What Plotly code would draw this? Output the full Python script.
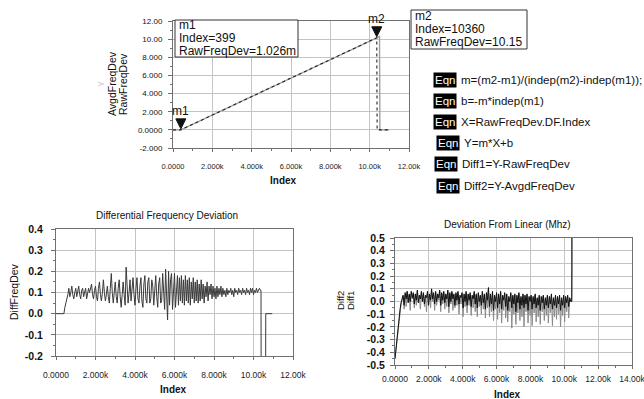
import plotly.graph_objects as go

W, H = 644, 399
FONT = "Liberation Sans, Arial, sans-serif"

# ---------------- data: top plot ----------------
raw_index = [0, 399, 10360, 10380, 11000]
raw_values = [0.0, 0.001026, 10.15, 0.0, 0.0]
avgd_index = [0, 399, 10360, 10500, 10520, 11000]
avgd_values = [0.0, 0.0, 10.15, 10.3, 0.0, 0.0]
m1_index, m1_value = 399, 0.001026
m2_index, m2_value = 10360, 10.15

top_yticks = [-2, 0, 2, 4, 6, 8, 10, 12]
top_ytext = ["-2.000", "0.0000", "2.000", "4.000", "6.000", "8.000", "10.00", "12.00"]
idx_ticks12 = [0, 2000, 4000, 6000, 8000, 10000, 12000]
idx_text12 = ["0.0000", "2.000k", "4.000k", "6.000k", "8.000k", "10.00k", "12.00k"]
idx_ticks14 = [0, 2000, 4000, 6000, 8000, 10000, 12000, 14000]
idx_text14 = ["0.0000", "2.000k", "4.000k", "6.000k", "8.000k", "10.00k", "12.00k", "14.00k"]

# ---------------- data: differential frequency deviation ----------------
diff_start, diff_step = 0, 50
diff_values = [
    0, 0, 0, 0, 0, 0, 0, 0, 0,
    0.03, 0.05, 0.06, 0.09, 0.12, 0.08, 0.10, 0.13, 0.09, 0.07,
    0.10, 0.12, 0.08, 0.10, 0.13, 0.09, 0.07, 0.11, 0.12, 0.08,
    0.10, 0.12, 0.07, 0.09, 0.12, 0.10, 0.13, 0.14, 0.09, 0.07,
    0.11, 0.13, 0.08, 0.06, 0.12, 0.15, 0.09, 0.06, 0.10, 0.16,
    0.10, 0.06, 0.09, 0.13, 0.08, 0.05, 0.12, 0.19, 0.10, 0.05,
    0.10, 0.15, 0.08, 0.05, 0.12, 0.16, 0.08, 0.03, 0.09, 0.15,
    0.09, 0.04, 0.22, 0.12, 0.05, 0.10, 0.16, 0.06, 0.10, 0.17,
    0.09, 0.04, 0.12, 0.17, 0.07, 0.05, 0.13, 0.17, 0.06, 0.03,
    0.14, 0.18, 0.07, 0.05, 0.15, 0.17, 0.05, 0.07, 0.16, 0.13,
    0.04, 0.10, 0.18, 0.08, 0.03, 0.14, 0.17, 0.05, 0.06, 0.19,
    0.10, 0.02, 0.21, 0.12, -0.03, 0.20, 0.04, 0.16, 0.19, 0.02,
    0.12, 0.19, 0.03, 0.15, 0.18, 0.04, 0.17, 0.06, 0.18, 0.05,
    0.16, 0.04, 0.18, 0.06, 0.16, 0.05, 0.17, 0.04, 0.15, 0.07,
    0.17, 0.05, 0.15, 0.06, 0.16, 0.05, 0.14, 0.06, 0.16, 0.07,
    0.14, 0.05, 0.13, 0.08, 0.15, 0.06, 0.13, 0.09, 0.14, 0.07,
    0.13, 0.08, 0.12, 0.07, 0.13, 0.08, 0.12, 0.09, 0.13, 0.08,
    0.12, 0.09, 0.11, 0.08, 0.12, 0.09, 0.11, 0.10, 0.12, 0.09,
    0.11, 0.08, 0.12, 0.10, 0.11, 0.09, 0.12, 0.10, 0.11, 0.09,
    0.12, 0.10, 0.11, 0.09, 0.12, 0.10, 0.11, 0.09, 0.12, 0.10,
    0.12, 0.09, 0.11, 0.10, 0.12, 0.10, 0.11, 0.12, 0.11,
]
diff_tail_index = [10380, 10400, 10600, 10620, 10950]
diff_tail_values = [0.11, -1.0, -1.0, 0.0, 0.0]
diff_yticks = [-0.2, -0.1, 0.0, 0.1, 0.2, 0.3, 0.4]
diff_ytext = ["-0.2", "-0.1", "0.0", "0.1", "0.2", "0.3", "0.4"]

# ---------------- data: deviation from linear ----------------
dev_start, dev_step = 0, 60
diff1_values = [
    -0.45, -0.36, -0.27, -0.19, -0.12, -0.06, -0.01, 0.03, 0.05, -0.03,
    0.07, 0.02, 0.08, -0.01, 0.06, 0.00, 0.08, 0.03, 0.07, -0.02,
    0.06, 0.01, 0.09, -0.01, 0.05, 0.02, 0.08, 0.00, 0.07, -0.02,
    0.05, 0.03, 0.08, -0.03, 0.06, 0.01, 0.10, 0.02, 0.07, -0.02,
    0.08, 0.00, 0.06, 0.03, 0.09, -0.03, 0.07, 0.01, 0.08, -0.01,
    0.06, 0.02, 0.09, -0.04, 0.07, 0.00, 0.08, 0.02, 0.06, -0.03,
    0.07, 0.01, 0.08, -0.02, 0.05, 0.03, 0.07, -0.05, 0.06, 0.00,
    0.08, -0.03, 0.06, 0.01, 0.07, -0.04, 0.05, 0.02, 0.08, -0.02,
    0.06, -0.05, 0.07, 0.00, 0.05, -0.03, 0.08, -0.01, 0.06, -0.06,
    0.07, 0.01, 0.11, -0.04, 0.06, -0.02, 0.08, -0.07, 0.05, 0.00,
    0.07, -0.05, 0.06, -0.02, 0.08, -0.06, 0.05, 0.01, 0.07, -0.04,
    0.06, -0.07, 0.04, 0.00, 0.07, -0.05, 0.05, -0.02, 0.06, -0.08,
    0.05, -0.01, 0.07, -0.06, 0.04, -0.03, 0.06, -0.05, 0.05, -0.02,
    0.06, -0.07, 0.04, 0.00, 0.05, -0.06, 0.04, -0.02, 0.06, -0.05,
    0.03, -0.03, 0.05, -0.07, 0.04, -0.01, 0.05, -0.06, 0.03, -0.03,
    0.05, -0.05, 0.04, -0.02, 0.06, -0.06, 0.03, -0.03, 0.05, -0.05,
    0.04, -0.02, 0.05, -0.07, 0.03, -0.03, 0.05, -0.05, 0.04, -0.01,
    0.05, -0.04, 0.03, 0.00,
]
diff2_values = [
    -0.45, -0.37, -0.28, -0.20, -0.13, -0.07, -0.02, 0.02, 0.04, -0.06,
    0.06, -0.04, 0.08, 0.01, 0.05, -0.07, 0.07, 0.02, 0.06, -0.05,
    0.05, -0.03, 0.08, 0.00, 0.04, -0.06, 0.07, 0.01, 0.06, -0.04,
    0.04, -0.08, 0.07, 0.02, 0.05, -0.05, 0.09, 0.00, 0.06, -0.07,
    0.07, -0.03, 0.05, 0.01, 0.08, -0.08, 0.06, -0.02, 0.07, -0.06,
    0.05, -0.04, 0.08, -0.09, 0.06, -0.02, 0.07, -0.07, 0.05, -0.05,
    0.06, -0.03, 0.07, -0.10, 0.04, -0.02, 0.06, -0.12, 0.05, -0.04,
    0.07, -0.09, 0.05, -0.03, 0.06, -0.11, 0.04, -0.05, 0.07, -0.08,
    0.05, -0.12, 0.06, -0.04, 0.04, -0.10, 0.07, -0.06, 0.05, -0.13,
    0.06, -0.05, 0.10, -0.12, 0.05, -0.08, 0.07, -0.15, 0.04, -0.06,
    0.06, -0.14, 0.05, -0.09, 0.07, -0.17, 0.04, -0.07, 0.06, -0.13,
    0.05, -0.16, 0.03, -0.08, 0.06, -0.21, 0.04, -0.10, 0.05, -0.18,
    0.04, -0.09, 0.06, -0.15, 0.03, -0.12, 0.05, -0.20, 0.04, -0.08,
    0.05, -0.17, 0.03, -0.11, 0.04, -0.19, 0.03, -0.09, 0.05, -0.16,
    0.02, -0.12, 0.04, -0.18, 0.03, -0.08, 0.04, -0.15, 0.02, -0.11,
    0.04, -0.17, 0.03, -0.09, 0.05, -0.19, 0.02, -0.12, 0.04, -0.14,
    0.03, -0.10, 0.04, -0.20, 0.02, -0.11, 0.04, -0.16, 0.03, -0.08,
    0.04, -0.13, 0.02, 0.00,
]
dev_tail_index = [10440, 10450, 10460]
diff1_tail = [0.0, 0.28, 3.0]
diff2_tail = [0.0, 0.1, 3.0]
dev_yticks = [-0.5, -0.4, -0.3, -0.2, -0.1, 0.0, 0.1, 0.2, 0.3, 0.4, 0.5]
dev_ytext = ["-0.5", "-0.4", "-0.3", "-0.2", "-0.1", "0.0", "0.1", "0.2", "0.3", "0.4", "0.5"]

equations = [
    "m=(m2-m1)/(indep(m2)-indep(m1));",
    "b=-m*indep(m1)",
    "X=RawFreqDev.DF.Index",
    "Y=m*X+b",
    "Diff1=Y-RawFreqDev",
    "Diff2=Y-AvgdFreqDev",
]

# ---------------- build ----------------
def fx(p):
    return p / W

def fy(p):
    return 1 - p / H

diff_index = [diff_start + i * diff_step for i in range(len(diff_values))]
dev_index1 = [dev_start + i * dev_step for i in range(len(diff1_values))]
dev_index2 = [dev_start + i * dev_step for i in range(len(diff2_values))]

fig = go.Figure()
fig.add_trace(go.Scatter(x=avgd_index, y=avgd_values, mode="lines",
                         line=dict(color="#a0a0a0", width=1.4), xaxis="x", yaxis="y"))
fig.add_trace(go.Scatter(x=raw_index, y=raw_values, mode="lines",
                         line=dict(color="#222222", width=1.1, dash="dot"), xaxis="x", yaxis="y"))
fig.add_trace(go.Scatter(x=diff_index + diff_tail_index, y=diff_values + diff_tail_values,
                         mode="lines", line=dict(color="#3a3a3a", width=1), xaxis="x2", yaxis="y2"))
fig.add_trace(go.Scatter(x=dev_index2 + dev_tail_index, y=diff2_values + diff2_tail,
                         mode="lines", line=dict(color="#8a8a8a", width=1), xaxis="x3", yaxis="y3"))
fig.add_trace(go.Scatter(x=dev_index1 + dev_tail_index, y=diff1_values + diff1_tail,
                         mode="lines", line=dict(color="#111111", width=1), xaxis="x3", yaxis="y3"))

GRID = "#c4c4c4"
LINE = "#707070"

def xax(dom, anchor, rng, vals, text, size, standoff):
    return dict(domain=dom, anchor=anchor, range=rng, tickvals=vals, ticktext=text,
                automargin=False, ticklabeloverflow="allow",
                showgrid=True, gridcolor=GRID, gridwidth=1, zeroline=False,
                showline=True, linecolor=LINE, linewidth=1, mirror=True,
                ticks="outside", ticklen=3, tickcolor=LINE, ticklabelstandoff=standoff,
                tickfont=dict(family=FONT, size=size, color="#222"),
                minor=dict(dtick=1000, ticks="outside", ticklen=2, tickcolor=LINE, showgrid=False))

def yax(dom, anchor, rng, vals, text, size, mdtick, standoff, bold=False):
    return dict(domain=dom, anchor=anchor, range=rng, tickvals=vals, ticktext=text,
                automargin=False, ticklabeloverflow="allow",
                showgrid=True, gridcolor=GRID, gridwidth=1, zeroline=False,
                showline=True, linecolor=LINE, linewidth=1, mirror=True,
                ticks="outside", ticklen=4, tickcolor=LINE, ticklabelstandoff=standoff,
                tickfont=dict(family=FONT, size=size, color="#111",
                              weight="bold" if bold else "normal"),
                minor=dict(dtick=mdtick, ticks="outside", ticklen=2, tickcolor=LINE, showgrid=False))

fig.update_layout(
    width=W, height=H, margin=dict(l=0, r=0, t=0, b=0, autoexpand=False),
    paper_bgcolor="white", plot_bgcolor="white", showlegend=False,
    font=dict(family=FONT, color="#111"),
    xaxis=xax([fx(173), fx(409)], "y", [0, 12000], idx_ticks12, idx_text12, 7.5, 8),
    yaxis=yax([fy(148), fy(21)], "x", [-2, 12], top_yticks, top_ytext, 8, 1, 4),
    xaxis2=xax([fx(56), fx(293)], "y2", [0, 12000], idx_ticks12, idx_text12, 8.5, 8),
    yaxis2=yax([fy(356), fy(229)], "x2", [-0.2, 0.4], diff_yticks, diff_ytext, 10.5, 0.05, 6, True),
    xaxis3=xax([fx(395), fx(632)], "y3", [0, 14000], idx_ticks14, idx_text14, 8.5, 3),
    yaxis3=yax([fy(365), fy(238)], "x3", [-0.5, 0.5], dev_yticks, dev_ytext, 10.5, 0.05, 3, True),
)

ann = []
shapes = []

def text(x, y, t, size, xanchor="center", color="#111", angle=0, bold=False):
    ann.append(dict(x=fx(x), y=fy(y), xref="paper", yref="paper", text=t, showarrow=False,
                    xanchor=xanchor, yanchor="middle", textangle=angle,
                    font=dict(family=FONT, size=size, color=color,
                              weight="bold" if bold else "normal")))

# axis titles / plot titles
text(283, 181, "Index", 10, bold=True)
text(173, 389, "Index", 10, bold=True)
text(507, 394, "Index", 10, bold=True)
text(167, 215, "Differential Frequency Deviation", 10)
text(507, 224, "Deviation From Linear (Mhz)", 10)
text(112, 84, "AvgdFreqDev", 10.5, angle=-90)
text(123, 84, "RawFreqDev", 10.5, angle=-90)
text(101, 84, "Y", 9, color="#c8c8c8", angle=-90)
text(14, 292, "DiffFreqDev", 10.5, angle=-90)
text(340, 301, "Diff2", 9.5, angle=-90)
text(350, 301, "Diff1", 9.5, angle=-90)

# marker readouts
shapes.append(dict(type="rect", xref="paper", yref="paper", x0=fx(175), x1=fx(298),
                   y0=fy(57), y1=fy(20), line=dict(color="#333", width=1), fillcolor="white"))
shapes.append(dict(type="rect", xref="paper", yref="paper", x0=fx(411), x1=fx(527),
                   y0=fy(49), y1=fy(10), line=dict(color="#333", width=1), fillcolor="white"))
text(177, 25, "m1", 12, xanchor="left")
text(177, 38, "Index=%d" % m1_index, 12, xanchor="left")
text(177, 51, "RawFreqDev=%.3fm" % (m1_value * 1000), 12, xanchor="left")
text(413, 16, "m2", 12, xanchor="left")
text(413, 29, "Index=%d" % m2_index, 12, xanchor="left")
text(413, 42, "RawFreqDev=%.2f" % m2_value, 12, xanchor="left")

# marker triangles on data (pixel-sized shapes anchored at the marker points)
for (mi, mv, name) in [(m1_index, m1_value, "m1"), (m2_index, m2_value, "m2")]:
    shapes.append(dict(type="path", xref="x", yref="y", xsizemode="pixel", ysizemode="pixel",
                       xanchor=mi, yanchor=mv, path="M -5,11 L 5,11 L 0,1 Z",
                       fillcolor="#111", line=dict(color="#111", width=1)))
    ann.append(dict(x=mi, y=mv, xref="x", yref="y", text=name, showarrow=False,
                    yanchor="bottom", yshift=10, font=dict(family=FONT, size=12, color="#111")))

# equation blocks
eq_y = [80, 101, 122, 143, 164, 186]
eq_x = [433, 433, 433, 436, 434, 436]
for t, yy, xx in zip(equations, eq_y, eq_x):
    ann.append(dict(x=fx(xx), y=fy(yy), xref="paper", yref="paper", text="Eqn", showarrow=False,
                    xanchor="left", yanchor="middle", bgcolor="black", borderpad=1,
                    font=dict(family=FONT, size=11.5, color="white")))
    text(xx + 26, yy, t, 11.5, xanchor="left")

fig.update_layout(annotations=ann, shapes=shapes)
fig.write_html("out.html", config={"displayModeBar": False},
               post_script="document.body.style.margin='0px';")
